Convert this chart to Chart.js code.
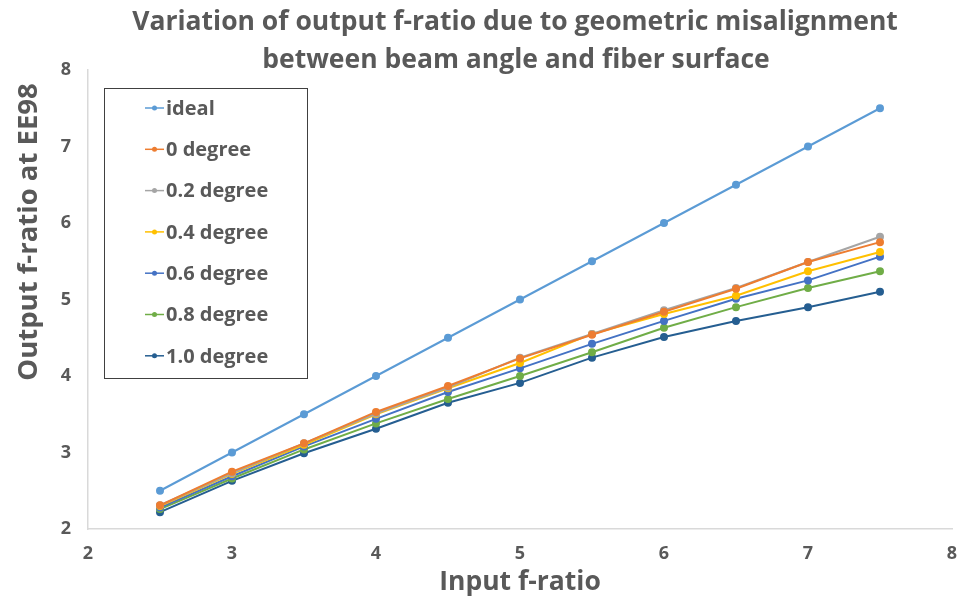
<!DOCTYPE html>
<html>
<head>
<meta charset="utf-8">
<script src="https://cdn.jsdelivr.net/npm/chart.js@4/dist/chart.umd.min.js"></script>
<style>
  html, body { margin: 0; padding: 0; background: #fff; }
  #wrap { width: 961px; height: 598px; }
</style>
</head>
<body>
<div id="wrap"><canvas id="fratioChart" width="961" height="598"></canvas></div>
<script>
// ---- DATA ----
const inputRatio = [2.5, 3, 3.5, 4, 4.5, 5, 5.5, 6, 6.5, 7, 7.5];
const idealOut = [2.5, 3, 3.5, 4, 4.5, 5, 5.5, 6, 6.5, 7, 7.5];
const deg00 = [2.31, 2.75, 3.12, 3.53, 3.87, 4.23, 4.54, 4.84, 5.14, 5.49, 5.75];
const deg02 = [2.31, 2.73, 3.12, 3.51, 3.85, 4.24, 4.55, 4.86, 5.15, 5.49, 5.82];
const deg04 = [2.30, 2.72, 3.10, 3.50, 3.84, 4.17, 4.55, 4.81, 5.05, 5.37, 5.62];
const deg06 = [2.28, 2.69, 3.08, 3.44, 3.79, 4.10, 4.42, 4.72, 5.01, 5.25, 5.56];
const deg08 = [2.26, 2.66, 3.04, 3.38, 3.70, 4.00, 4.31, 4.63, 4.90, 5.15, 5.37];
const deg10 = [2.22, 2.63, 2.99, 3.31, 3.65, 3.91, 4.24, 4.51, 4.72, 4.90, 5.10];

const seriesLabels = ['ideal', '0 degree', '0.2 degree', '0.4 degree', '0.6 degree', '0.8 degree', '1.0 degree'];
const seriesValues = [idealOut, deg00, deg02, deg04, deg06, deg08, deg10];
const seriesColors = ['#5B9BD5', '#ED7D31', '#A5A5A5', '#FFC000', '#4472C4', '#70AD47', '#255E91'];

const titleLines = ['Variation of output f-ratio due to geometric misalignment', 'between beam angle and fiber surface'];
const yTitle = 'Output f-ratio at EE98';
const axisMin = 2;
const axisMax = 8;

const FONT = "'Open Sans', 'DejaVu Sans', sans-serif";
const TEXT = '#595959';

// ---- PLUGINS ----
// two-line chart title above the plot + y axis title (sits a bit above centre)
const headlinePlugin = {
    id: 'headline',
    afterDraw(chart) {
        const ctx = chart.ctx;
        ctx.save();
        ctx.font = 'bold 26.5px ' + FONT;
        ctx.fillStyle = TEXT;
        ctx.textAlign = 'center';
        ctx.textBaseline = 'middle';
        ctx.fillText(titleLines[0], 515, 22);
        ctx.fillText(titleLines[1], 516, 60);

        ctx.font = 'bold 27.5px ' + FONT;
        ctx.translate(29, 232);
        ctx.rotate(-Math.PI / 2);
        ctx.fillText(yTitle, 0, 0);
        ctx.restore();
    }
};

// boxed legend sitting inside the plot area
const boxLegendPlugin = {
    id: 'boxLegend',
    afterDraw(chart) {
        const ctx = chart.ctx;
        const box = { x: 104.5, y: 88.5, w: 203, h: 290 };
        ctx.save();
        ctx.fillStyle = '#fff';
        ctx.fillRect(box.x, box.y, box.w, box.h);
        ctx.strokeStyle = '#404040';
        ctx.lineWidth = 1;
        ctx.strokeRect(box.x, box.y, box.w, box.h);
        ctx.font = 'bold 20px ' + FONT;
        ctx.textBaseline = 'middle';
        chart.data.datasets.forEach((ds, i) => {
            const y = 108 + i * 41.3;
            ctx.strokeStyle = ds.borderColor;
            ctx.lineWidth = 1.5;
            ctx.beginPath();
            ctx.moveTo(145, y);
            ctx.lineTo(164, y);
            ctx.stroke();
            ctx.fillStyle = ds.borderColor;
            ctx.beginPath();
            ctx.arc(154.5, y, 2.5, 0, Math.PI * 2);
            ctx.fill();
            ctx.fillStyle = TEXT;
            ctx.fillText(ds.label, 166, y + 1);
        });
        ctx.restore();
    }
};

// ---- CHART ----
const datasets = seriesLabels.map((label, i) => ({
    label: label,
    data: inputRatio.map((x, j) => ({ x: x, y: seriesValues[i][j] })),
    borderColor: seriesColors[i],
    backgroundColor: seriesColors[i],
    borderWidth: 2,
    pointRadius: 3,
    pointHoverRadius: 3,
    tension: 0
}));

new Chart(document.getElementById('fratioChart'), {
    type: 'line',
    data: { datasets: datasets },
    options: {
        responsive: false,
        animation: false,
        layout: { padding: { top: 70, right: 0, left: 0, bottom: 0 } },
        plugins: {
            legend: { display: false },
            tooltip: { enabled: false }
        },
        scales: {
            x: {
                type: 'linear',
                min: axisMin,
                max: axisMax,
                afterFit: s => { s.height = 69; s.paddingRight = 9; },
                grid: { display: false, drawTicks: false },
                border: { display: true, color: '#d9d9d9', width: 1.5 },
                ticks: {
                    stepSize: 1,
                    padding: 14,
                    color: TEXT,
                    font: { family: FONT, size: 18, weight: 'bold' }
                },
                title: {
                    display: true,
                    text: 'Input f-ratio',
                    color: TEXT,
                    padding: { top: 0, bottom: 0 },
                    font: { family: FONT, size: 26.5, weight: 'bold' }
                }
            },
            y: {
                type: 'linear',
                min: axisMin,
                max: axisMax,
                afterFit: s => { s.width = 88; },
                grid: { display: false, drawTicks: false },
                border: { display: true, color: '#d9d9d9', width: 1.5 },
                ticks: {
                    stepSize: 1,
                    padding: 17,
                    color: TEXT,
                    font: { family: FONT, size: 18, weight: 'bold' }
                }
            }
        }
    },
    plugins: [headlinePlugin, boxLegendPlugin]
});
</script>
</body>
</html>
